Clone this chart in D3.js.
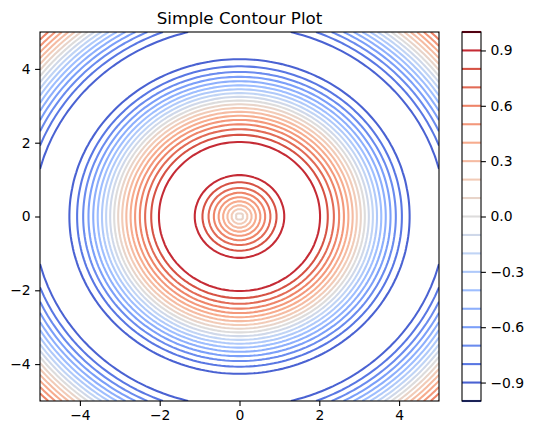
<!DOCTYPE html>
<html>
<head>
<meta charset="utf-8">
<script src="https://cdn.jsdelivr.net/npm/d3@7"></script>
<style>
  body { margin: 0; background: #fff; }
  text { font-family: "DejaVu Sans", sans-serif; fill: #000; }
</style>
</head>
<body>
<div id="chart"></div>
<script>
// contour levels
var levels = [-1.0, -0.9, -0.8, -0.7, -0.6, -0.5, -0.4, -0.3, -0.2, -0.1, 0.0,
              0.1, 0.2, 0.3, 0.4, 0.5, 0.6, 0.7, 0.8, 0.9, 1.0];
var xTicks = [-4, -2, 0, 2, 4];
var yTicks = [-4, -2, 0, 2, 4];
var cbTicks = [-0.9, -0.6, -0.3, 0.0, 0.3, 0.6, 0.9];
var cbLabels = ["\u22120.9", "\u22120.6", "\u22120.3", "0.0", "0.3", "0.6", "0.9"];
var xDomain = [-5, 5];
var yDomain = [-5, 5];
var gridN = 100;
// coolwarm colormap stops
var coolwarm = ["#3b4cc0", "#5977e3", "#7b9ff9", "#9ebeff", "#c0d4f5", "#dddcdc",
                "#f2cbb7", "#f7ac8e", "#ee8468", "#d65244", "#b40426"];

var W = 533, H = 435;
var plot = {left: 40, right: 439, top: 32, bottom: 401};
var cb = {left: 462, right: 481};
var fontSize = "13.9px";
var lw = 2.08;

var svg = d3.select("#chart").append("svg")
  .attr("width", W).attr("height", H);

var x = d3.scaleLinear().domain(xDomain).range([plot.left, plot.right]);
var y = d3.scaleLinear().domain(yDomain).range([plot.bottom, plot.top]);

var cmap = d3.scaleLinear()
  .domain(d3.range(coolwarm.length).map(function(i) { return i / (coolwarm.length - 1); }))
  .range(coolwarm)
  .interpolate(d3.interpolateRgb);
var levelColor = function(l) { return cmap((l - levels[0]) / (levels[levels.length - 1] - levels[0])); };

// surface z = sin(sqrt(x^2 + y^2)) on a 100x100 grid
var step = (xDomain[1] - xDomain[0]) / (gridN - 1);
var values = new Array(gridN * gridN);
for (var j = 0; j < gridN; j++) {
  for (var i = 0; i < gridN; i++) {
    var xv = xDomain[0] + i * step, yv = yDomain[0] + j * step;
    values[j * gridN + i] = Math.sin(Math.sqrt(xv * xv + yv * yv));
  }
}

var contours = d3.contours().size([gridN, gridN]).thresholds(levels)(values);

// grid coords -> data coords (d3 puts value i at i + 0.5)
function toPx(p) {
  return [x(xDomain[0] + (p[0] - 0.5) * step), y(yDomain[0] + (p[1] - 0.5) * step)];
}
function onBorder(p) {
  return p[0] <= 0 || p[0] >= gridN || p[1] <= 0 || p[1] >= gridN;
}

// split rings at the padded border so the lines stop at the grid edge
function ringLines(ring) {
  var pts = ring.slice(0, ring.length - 1);
  var first = pts.findIndex(onBorder);
  if (first < 0) return [{pts: pts, closed: true}];
  var rot = pts.slice(first).concat(pts.slice(0, first));
  var out = [], cur = [];
  rot.forEach(function(p) {
    if (onBorder(p)) { if (cur.length > 1) out.push({pts: cur, closed: false}); cur = []; }
    else cur.push(p);
  });
  if (cur.length > 1) out.push({pts: cur, closed: false});
  return out;
}

svg.append("clipPath").attr("id", "clip")
  .append("rect")
  .attr("x", plot.left).attr("y", plot.top)
  .attr("width", plot.right - plot.left).attr("height", plot.bottom - plot.top);

var g = svg.append("g").attr("clip-path", "url(#clip)");

contours.forEach(function(c) {
  var lines = [];
  c.coordinates.forEach(function(poly) {
    poly.forEach(function(ring) { lines = lines.concat(ringLines(ring)); });
  });
  var d = lines.map(function(l) {
    return "M" + l.pts.map(function(p) { return toPx(p).join(","); }).join("L") + (l.closed ? "Z" : "");
  }).join("");
  if (d) {
    g.append("path")
      .attr("d", d)
      .attr("fill", "none")
      .attr("stroke", levelColor(c.value))
      .attr("stroke-width", lw)
      .attr("stroke-linejoin", "round");
  }
});

// axes
var fmt = function(d) { return d < 0 ? "\u2212" + Math.abs(d) : d; };
var xAxis = svg.append("g")
  .attr("transform", "translate(0," + plot.bottom + ")")
  .call(d3.axisBottom(x).tickValues(xTicks).tickSize(4.9).tickPadding(4.5).tickFormat(fmt));
var yAxis = svg.append("g")
  .attr("transform", "translate(" + plot.left + ",0)")
  .call(d3.axisLeft(y).tickValues(yTicks).tickSize(4.9).tickPadding(4.5).tickFormat(fmt));
[xAxis, yAxis].forEach(function(a) {
  a.select(".domain").remove();
  a.selectAll("text").style("font-size", fontSize).style("font-family", "DejaVu Sans");
  a.selectAll("line").attr("stroke", "#000").attr("stroke-width", 1.1);
});

svg.append("rect")
  .attr("x", plot.left).attr("y", plot.top)
  .attr("width", plot.right - plot.left).attr("height", plot.bottom - plot.top)
  .attr("fill", "none").attr("stroke", "#000").attr("stroke-width", 1.1);

svg.append("text")
  .attr("x", (plot.left + plot.right) / 2).attr("y", 24)
  .attr("text-anchor", "middle")
  .style("font-size", "16.7px")
  .text("Simple Contour Plot");

// colorbar
var cy = d3.scaleLinear().domain([levels[0], levels[levels.length - 1]]).range([plot.bottom, plot.top]);
var cbg = svg.append("g");
cbg.selectAll("line.lvl")
  .data(levels)
  .enter().append("line")
  .attr("class", "lvl")
  .attr("x1", cb.left).attr("x2", cb.right)
  .attr("y1", function(d) { return cy(d); })
  .attr("y2", function(d) { return cy(d); })
  .attr("stroke", function(d) { return levelColor(d); })
  .attr("stroke-width", lw);
cbg.append("rect")
  .attr("x", cb.left).attr("y", plot.top)
  .attr("width", cb.right - cb.left).attr("height", plot.bottom - plot.top)
  .attr("fill", "none").attr("stroke", "#000").attr("stroke-width", 1.1);
var cbAxis = svg.append("g")
  .attr("transform", "translate(" + cb.right + ",0)")
  .call(d3.axisRight(cy).tickValues(cbTicks).tickSize(4.9).tickPadding(4.5)
    .tickFormat(function(d, i) { return cbLabels[i]; }));
cbAxis.select(".domain").remove();
cbAxis.selectAll("text").style("font-size", fontSize).style("font-family", "DejaVu Sans");
cbAxis.selectAll("line").attr("stroke", "#000").attr("stroke-width", 1.1);
</script>
</body>
</html>
